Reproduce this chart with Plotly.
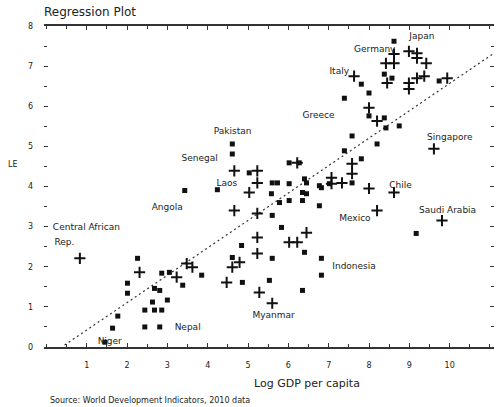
import plotly.graph_objects as go

# ---- data ----
plus_x = [8.62, 8.42, 8.62, 8.99, 9.19, 9.19, 9.42, 7.63, 8.45, 8.99, 8.99, 9.19, 9.37, 9.94,
          8.00, 8.20, 7.58, 7.58, 7.07, 7.07, 7.33, 8.00, 9.61, 8.20, 8.62,
          4.66, 5.23, 6.22, 5.03, 5.23, 4.66, 5.23, 6.45, 5.23, 6.02, 6.22, 5.23, 4.79, 4.61,
          4.47, 5.60, 5.28, 0.83, 2.31, 3.23, 3.48, 3.62, 9.81]
plus_y = [7.30, 7.07, 7.07, 7.37, 7.32, 7.20, 7.07, 6.75, 6.58, 6.58, 6.43, 6.70, 6.75, 6.70,
          5.96, 5.63, 4.57, 4.32, 4.22, 4.07, 4.09, 3.95, 4.94, 3.40, 3.85,
          4.39, 4.39, 4.59, 3.85, 4.09, 3.40, 3.33, 2.85, 2.73, 2.61, 2.61, 2.33, 2.11, 1.99,
          1.61, 1.09, 1.36, 2.21, 1.86, 1.74, 2.08, 1.99, 3.15]

sq_x = [8.62, 8.38, 8.57, 9.74, 7.81, 8.00, 7.39, 8.00, 8.38, 8.42, 8.75, 7.58, 8.20, 7.39,
        7.81, 7.58, 6.27, 6.40, 6.45, 6.77, 6.77, 6.35, 6.35,
        4.61, 4.61, 5.03, 6.02, 4.24, 3.43, 5.60, 5.73, 6.02, 6.45, 6.82, 7.02, 5.58, 5.78,
        6.02, 5.60, 5.83, 4.84, 4.61, 5.60, 6.82, 6.40, 6.82, 4.86, 5.53, 6.35, 9.17,
        2.26, 2.01, 2.01, 2.68, 2.81, 2.86, 3.05, 3.85, 3.38, 2.63, 3.00, 2.44, 2.68, 2.86,
        1.64, 2.44, 2.81, 1.77, 1.45]
sq_y = [7.62, 6.80, 6.70, 6.63, 6.55, 6.33, 6.20, 5.76, 5.71, 5.46, 5.51, 5.26, 5.06, 4.89,
        4.69, 4.09, 4.59, 4.19, 3.82, 4.02, 3.52, 3.85, 3.65,
        5.06, 4.81, 4.34, 4.59, 3.92, 3.90, 4.09, 4.09, 4.07, 4.09, 3.97, 4.07, 3.82, 3.60,
        3.65, 3.28, 2.98, 2.53, 2.23, 2.21, 2.21, 2.36, 1.79, 1.61, 1.66, 1.41, 2.83,
        2.21, 1.59, 1.34, 1.46, 1.41, 1.84, 1.86, 1.79, 1.54, 1.12, 1.17, 0.92, 0.92, 0.92,
        0.47, 0.50, 0.50, 0.77, 0.12]

label_text = ["Japan", "Germany", "Italy", "Greece", "Singapore", "Pakistan", "Senegal",
              "Laos", "Angola", "Central African", "Rep.", "Mexico", "Saudi Arabia", "Chile",
              "Indonesia", "Myanmar", "Nepal", "Niger"]
label_x = [9.00, 7.63, 7.02, 6.35, 9.44, 4.15, 3.35, 4.22, 2.61, 0.16, 0.20, 7.26, 9.24, 8.50,
           7.09, 5.11, 3.18, 1.27]
label_y = [7.72, 7.42, 6.87, 5.76, 5.21, 5.36, 4.69, 4.07, 3.47, 2.98, 2.61, 3.20, 3.40, 4.02,
           1.99, 0.79, 0.47, 0.12]

reg_intercept = -0.26
reg_slope = 0.683
reg_x = [0.45, 11.1]

x_ticks = [1, 2, 3, 4, 5, 6, 7, 8, 9, 10]
y_ticks = [0, 1, 2, 3, 4, 5, 6, 7, 8]

title_text = "Regression Plot"
x_title = "Log GDP per capita"
y_title = "LE"
note_text = "Source: World Development Indicators, 2010 data"

FONT = "DejaVu Sans"
INK = "#222222"

fig = go.Figure()

reg_y = [reg_intercept + reg_slope * v for v in reg_x]
fig.add_trace(go.Scatter(x=reg_x, y=reg_y, mode="lines",
                         line=dict(color="#333333", width=1.2, dash="2px,3px"),
                         hoverinfo="skip", showlegend=False))
fig.add_trace(go.Scatter(x=plus_x, y=plus_y, mode="markers",
                         marker=dict(symbol="cross-thin", size=8,
                                     line=dict(color="#111111", width=2)),
                         showlegend=False))
fig.add_trace(go.Scatter(x=sq_x, y=sq_y, mode="markers",
                         marker=dict(symbol="square", size=5, color="#111111"),
                         showlegend=False))
fig.add_trace(go.Scatter(x=label_x, y=label_y, mode="text", text=label_text,
                         textposition="middle right",
                         textfont=dict(family=FONT, size=9, color=INK),
                         showlegend=False))

fig.update_layout(
    width=498, height=407,
    margin=dict(l=44, r=4, t=26, b=60),
    paper_bgcolor="white", plot_bgcolor="white",
    font=dict(family=FONT, size=8, color=INK),
    showlegend=False,
)
fig.update_xaxes(
    range=[-0.06, 11.1], tickmode="array", tickvals=x_ticks,
    ticktext=[str(t) for t in x_ticks],
    showgrid=False, zeroline=False,
    showline=True, linecolor="#333333", linewidth=1.5, mirror="allticks",
    ticks="inside", ticklen=4, tickcolor="#333333",
    minor=dict(dtick=0.5, ticks="inside", ticklen=3, tickcolor="#333333"),
    tickfont=dict(family=FONT, size=8, color=INK), ticklabelstandoff=10,
)
fig.update_yaxes(
    range=[0, 8], tickmode="array", tickvals=y_ticks,
    ticktext=[str(t) for t in y_ticks],
    showgrid=False, zeroline=False,
    showline=False, mirror="allticks",
    ticks="inside", ticklen=4, tickcolor="#333333",
    minor=dict(dtick=0.5, ticks="inside", ticklen=3, tickcolor="#333333"),
    tickfont=dict(family=FONT, size=8, color=INK), ticklabelstandoff=10,
)
fig.add_annotation(text=title_text, xref="paper", yref="paper", x=0, y=1,
                   xanchor="left", yanchor="bottom", yshift=5, xshift=-2, showarrow=False,
                   font=dict(family=FONT, size=12, color=INK))
fig.add_annotation(text=x_title, xref="paper", yref="paper", x=0.585, y=0,
                   xanchor="center", yanchor="top", yshift=-28, showarrow=False,
                   font=dict(family=FONT, size=11, color=INK))
fig.add_annotation(text=y_title, xref="paper", yref="paper", x=0, y=0.57,
                   xanchor="right", yanchor="middle", xshift=-24, showarrow=False,
                   font=dict(family=FONT, size=8, color=INK))
fig.add_annotation(text=note_text, xref="paper", yref="paper", x=0, y=0,
                   xanchor="left", yanchor="top", yshift=-47, xshift=4, showarrow=False,
                   font=dict(family=FONT, size=8, color=INK))

fig.write_html("out.html", config={"displayModeBar": False},
               post_script="document.body.style.margin='0';document.body.style.overflow='hidden';")
